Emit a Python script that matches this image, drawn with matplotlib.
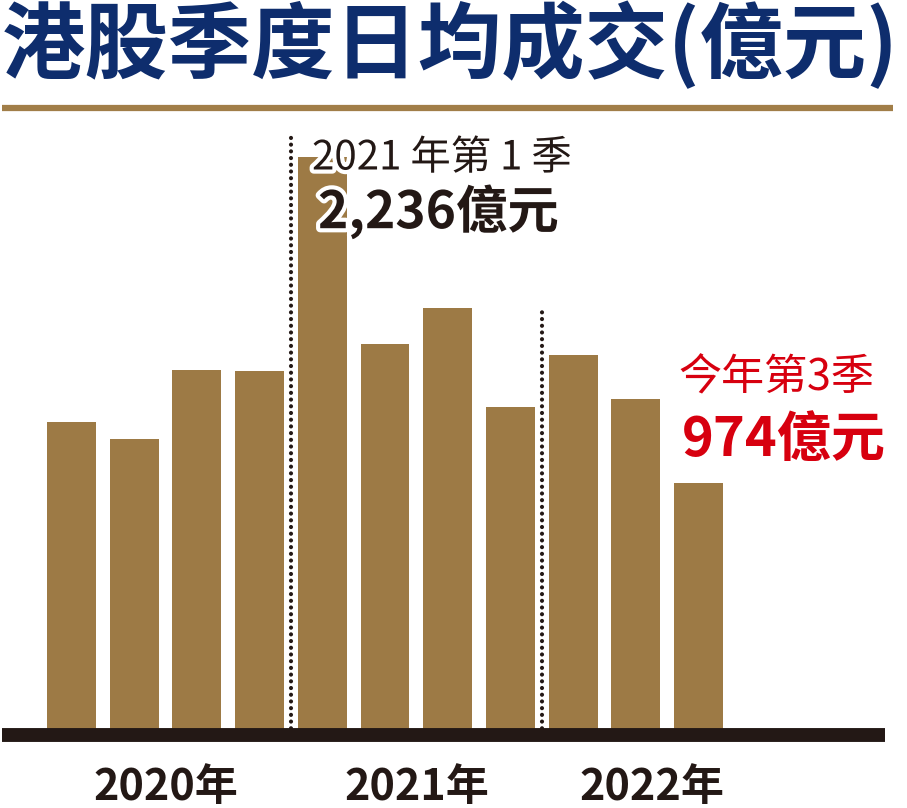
import matplotlib
matplotlib.use('Agg')
import matplotlib.pyplot as plt
import matplotlib.patheffects as pe
from matplotlib.lines import Line2D

plt.rcParams['font.family'] = ['Noto Sans CJK TC', 'DejaVu Sans']

# 港股季度日均成交 (億元), 2020 Q1 - 2022 Q3
quarters = ['2020Q1', '2020Q2', '2020Q3', '2020Q4',
            '2021Q1', '2021Q2', '2021Q3', '2021Q4',
            '2022Q1', '2022Q2', '2022Q3']
values = [1211, 1145, 1412, 1408, 2236, 1512, 1652, 1269, 1470, 1300, 974]
years = ['2020年', '2021年', '2022年']
year_pos = [1.5, 5.5, 9.25]
dividers = [3.5, 7.5]
divider_tops = [2330, 1636]

BAR = '#9D7A45'
GOLD = '#A17E48'
INK = '#231815'
NAVY = '#0E2D6D'
RED = '#D7000F'

W, H = 907, 808
fig = plt.figure(figsize=(W / 100, H / 100), dpi=100)
fig.patch.set_facecolor('white')

# axes spanning full width; baseline at 73px from bottom
base = 73
pitch = 62.7
x0 = 71.5
ax = fig.add_axes([0, base / H, 1, (H - base) / H])
ax.set_xlim(-x0 / pitch, (W - x0) / pitch)
ax.set_ylim(0, (H - base) * 2236 / 578)
ax.axis('off')

xs = list(range(len(values)))
ax.bar(xs, values, width=0.78, color=BAR, zorder=2)

for d, top in zip(dividers, divider_tops):
    ax.plot([d, d], [0, top], color=INK, lw=3.0, ls=(0, (0.01, 1.6)),
            dash_capstyle='round', zorder=1)

# baseline
ax.plot([(2 - x0) / pitch, (885 - x0) / pitch], [0, 0], color=INK, lw=10,
        solid_capstyle='butt', zorder=3, clip_on=False)

for y, p in zip(years, year_pos):
    ax.text(p, -52 / 578 * 2236, y, ha='center', va='center', fontsize=31,
            fontweight='bold', color=INK, clip_on=False)

# title and rule
fig.text(450 / W, 1 - 46 / H, '港股季度日均成交(億元)', ha='center', va='center',
         fontsize=60, fontweight='bold', color=NAVY)
fig.add_artist(Line2D([2 / W, 893 / W], [1 - 108 / H, 1 - 108 / H],
                      color=GOLD, lw=4.5, solid_capstyle='butt'))

# annotations
halo = [pe.withStroke(linewidth=6, foreground='white')]
fig.text(312 / W, 1 - 158 / H, '2021 年第 1 季', ha='left', va='center',
         fontsize=29, color=INK, path_effects=halo)
fig.text(318 / W, 1 - 212 / H, '2,236億元', ha='left', va='center',
         fontsize=37, fontweight='bold', color=INK, path_effects=halo)
fig.text(678 / W, 1 - 378 / H, '今年第3季', ha='left', va='center',
         fontsize=31, color=RED)
fig.text(682 / W, 1 - 440 / H, '974億元', ha='left', va='center',
         fontsize=39, fontweight='bold', color=RED)

fig.savefig('out.png', dpi=100, facecolor='white')
